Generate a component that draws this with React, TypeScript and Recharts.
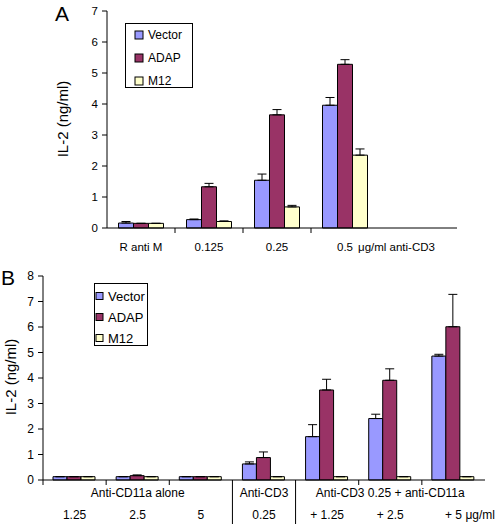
import React from 'react'
import { BarChart, Bar, XAxis, YAxis, ErrorBar, Legend } from 'recharts'

// panel A
const catsA = ['R anti M', '0.125', '0.25', '0.5']
const vectorA = [0.16, 0.27, 1.54, 3.96]
const vectorErrA = [0.05, 0.02, 0.2, 0.25]
const adapA = [0.15, 1.33, 3.65, 5.28]
const adapErrA = [0, 0.11, 0.17, 0.15]
const m12A = [0.15, 0.21, 0.68, 2.35]
const m12ErrA = [0, 0.02, 0.05, 0.2]
const ticksA = [0, 1, 2, 3, 4, 5, 6, 7]

// panel B
const catsB = ['1.25', '2.5', '5', '0.25', '+ 1.25', '+ 2.5', '+ 5']
const groupsB = ['', 'Anti-CD11a alone', '', 'Anti-CD3', '', 'Anti-CD3 0.25 + anti-CD11a', '']
const vectorB = [0.13, 0.13, 0.13, 0.63, 1.7, 2.41, 4.86]
const vectorErrB = [0, 0, 0, 0.08, 0.47, 0.17, 0.07]
const adapB = [0.13, 0.17, 0.13, 0.88, 3.53, 3.91, 6.01]
const adapErrB = [0, 0.03, 0, 0.22, 0.42, 0.45, 1.27]
const m12B = [0.13, 0.13, 0.13, 0.13, 0.13, 0.13, 0.13]
const m12ErrB = [0, 0, 0, 0, 0, 0, 0]
const ticksB = [0, 1, 2, 3, 4, 5, 6, 7, 8]

const series = [
  { key: 'vector', name: 'Vector', color: '#9999FF' },
  { key: 'adap', name: 'ADAP', color: '#993366' },
  { key: 'm12', name: 'M12', color: '#FFFFCC' },
]

const FONT = '"Liberation Sans", Arial, sans-serif'

const dataA = catsA.map((c, i) => ({
  cat: c,
  vector: vectorA[i], vectorErr: [0, vectorErrA[i]],
  adap: adapA[i], adapErr: [0, adapErrA[i]],
  m12: m12A[i], m12Err: [0, m12ErrA[i]],
}))

const dataB = catsB.map((c, i) => ({
  cat: c,
  group: groupsB[i],
  vector: vectorB[i], vectorErr: [0, vectorErrB[i]],
  adap: adapB[i], adapErr: [0, adapErrB[i]],
  m12: m12B[i], m12Err: [0, m12ErrB[i]],
}))

const BAND_A = 68
const BAND_B = (496 - 43 - 11) / 7

function TickA(props: any) {
  const { x, y, payload, index } = props
  const left = x - BAND_A / 2
  return (
    <g>
      {index > 0 && <line x1={left} x2={left} y1={y} y2={y + 5} stroke="#000" />}
      <text x={x} y={y + 23} textAnchor="middle" fontSize={11.5} fill="#000" fontFamily={FONT}>
        {payload.value}
      </text>
      {index === catsA.length - 1 && (
        <text x={x + 13} y={y + 23} textAnchor="start" fontSize={11.5} fill="#000" fontFamily={FONT}>
          μg/ml anti-CD3
        </text>
      )}
    </g>
  )
}

function TickB(props: any) {
  const { x, y, payload, index } = props
  const left = x - BAND_B / 2
  const right = x + BAND_B / 2
  const group = groupsB[index]
  return (
    <g>
      {index === 3 ? (
        <>
          <line x1={left} x2={left} y1={y} y2={y + 44} stroke="#000" />
          <line x1={right} x2={right} y1={y} y2={y + 44} stroke="#000" />
        </>
      ) : index !== 4 ? (
        <line x1={left} x2={left} y1={y} y2={y + 5} stroke="#000" />
      ) : null}
      {group && (
        <text x={x} y={y + 17} textAnchor="middle" fontSize={12} fill="#000" fontFamily={FONT}>
          {group}
        </text>
      )}
      <text x={x} y={y + 39} textAnchor="middle" fontSize={12} fill="#000" fontFamily={FONT}>
        {payload.value}
      </text>
      {index === catsB.length - 1 && (
        <text x={x + 12} y={y + 39} textAnchor="start" fontSize={12} fill="#000" fontFamily={FONT}>
          μg/ml
        </text>
      )}
    </g>
  )
}

function LegendBox({ rowGap, swatch, textX, fontSize, top }: { rowGap: number; swatch: number; textX: number; fontSize: number; top: number }) {
  return (
    <svg width="100%" height="100%" style={{ display: 'block' }}>
      {series.map((s, i) => (
        <g key={s.key}>
          <rect x={textX - swatch - 5} y={top + i * rowGap - swatch / 2} width={swatch} height={swatch} fill={s.color} stroke="#000" />
          <text x={textX} y={top + i * rowGap} dominantBaseline="central" fontSize={fontSize} fill="#000" fontFamily={FONT}>
            {s.name}
          </text>
        </g>
      ))}
    </svg>
  )
}

function yLabel(cx: number, cy: number) {
  return () => (
    <text x={0} y={0} transform={`translate(${cx},${cy}) rotate(-90)`} textAnchor="middle" dominantBaseline="central" fontSize={15} fill="#000" fontFamily={FONT}>
      IL-2 (ng/ml)
    </text>
  )
}

export default function App() {
  return (
    <div style={{ position: 'absolute', left: 0, top: 0, width: 496, height: 524, background: '#fff', fontFamily: FONT, overflow: 'hidden' }}>
      <div style={{ position: 'absolute', left: 0, top: 0 }}>
        <BarChart width={496} height={262} data={dataA} margin={{ top: 11, right: 39, left: 0, bottom: 0 }} barCategoryGap={11.5} barGap={0}>
          <XAxis dataKey="cat" height={34} padding={{ left: 0, right: 78 }} axisLine={{ stroke: '#000' }} tickLine={false} tickSize={0} tickMargin={0} interval={0} tick={<TickA />} />
          <YAxis width={107} domain={[0, 7]} ticks={ticksA} interval={0} axisLine={{ stroke: '#000' }} tickLine={{ stroke: '#000' }} tickSize={5} tickMargin={4} tick={{ fontSize: 11.5, fill: '#000', fontFamily: FONT }} label={{ content: yLabel(62, 119) }} />
          <Legend
            layout="vertical"
            align="center"
            verticalAlign="middle"
            wrapperStyle={{ position: 'absolute', left: 125, top: 23, width: 68, height: 65, border: '1px solid #000', boxSizing: 'border-box', background: '#fff' }}
            content={() => <LegendBox rowGap={23} swatch={8} textX={22} fontSize={12} top={11} />}
          />
          {series.map((s) => (
            <Bar key={s.key} dataKey={s.key} name={s.name} fill={s.color} stroke="#000" strokeWidth={1} isAnimationActive={false}>
              <ErrorBar dataKey={`${s.key}Err`} width={4.5} stroke="#000" strokeWidth={1} direction="y" />
            </Bar>
          ))}
        </BarChart>
      </div>

      <div style={{ position: 'absolute', left: 0, top: 262 }}>
        <BarChart width={496} height={262} data={dataB} margin={{ top: 14, right: 11, left: 0, bottom: 0 }} barCategoryGap={10} barGap={0}>
          <XAxis dataKey="cat" height={44} axisLine={{ stroke: '#000' }} tickLine={false} tickSize={0} tickMargin={0} interval={0} tick={<TickB />} />
          <YAxis width={43} domain={[0, 8]} ticks={ticksB} interval={0} axisLine={{ stroke: '#000' }} tickLine={{ stroke: '#000' }} tickSize={5} tickMargin={4} tick={{ fontSize: 12, fill: '#000', fontFamily: FONT }} label={{ content: yLabel(10, 115) }} />
          <Legend
            layout="vertical"
            align="center"
            verticalAlign="middle"
            wrapperStyle={{ position: 'absolute', left: 94, top: 21, width: 54, height: 63, border: '1px solid #000', boxSizing: 'border-box', background: '#fff' }}
            content={() => <LegendBox rowGap={21} swatch={7} textX={13} fontSize={13} top={12} />}
          />
          {series.map((s) => (
            <Bar key={s.key} dataKey={s.key} name={s.name} fill={s.color} stroke="#000" strokeWidth={1} isAnimationActive={false}>
              <ErrorBar dataKey={`${s.key}Err`} width={4.5} stroke="#000" strokeWidth={1} direction="y" />
            </Bar>
          ))}
        </BarChart>
      </div>

      <div style={{ position: 'absolute', left: 55, top: 0, fontSize: 21, lineHeight: '27px', fontFamily: FONT, zIndex: 2 }}>A</div>
      <div style={{ position: 'absolute', left: 1, top: 264, fontSize: 21, lineHeight: '27px', fontFamily: FONT, zIndex: 2 }}>B</div>
    </div>
  )
}
